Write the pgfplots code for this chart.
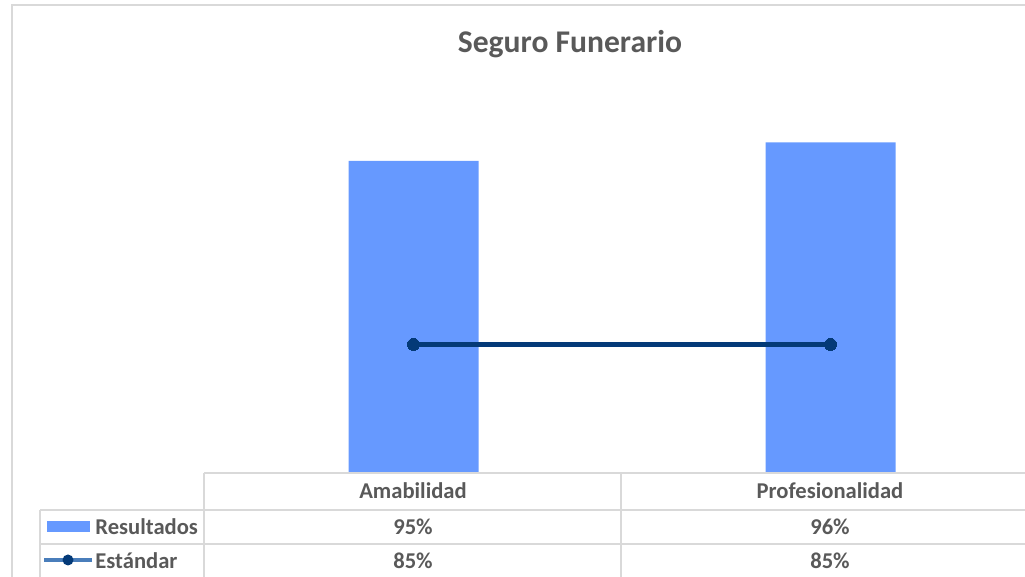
\documentclass[border=0pt]{standalone}
\usepackage{pgfplots}
\pgfplotsset{compat=1.18}
\usepackage{fontspec}
\setmainfont{Carlito}
\definecolor{barblue}{HTML}{6699FF}
\definecolor{linenavy}{HTML}{043A78}
\definecolor{legline}{HTML}{4A7EBB}
\definecolor{txtgray}{HTML}{595959}
\definecolor{bordgray}{HTML}{D9D9D9}
\begin{document}
\begin{tikzpicture}[x=0.5pt,y=0.5pt]
\useasboundingbox (0,0) rectangle (1025,577);
\clip (0,0) rectangle (1025,577);
% chart border
\draw[bordgray,line width=0.9pt] (12,-10) -- (12,572) -- (1040,572);
\begin{axis}[
  at={(102.5pt,52pt)}, anchor=south west,
  scale only axis, width=417pt, height=202pt,
  xmin=-0.5, xmax=1.5, ymin=78, ymax=100,
  axis lines=none, ticks=none, clip=false,
]
\addplot[ybar, bar width=65pt, fill=barblue, draw=none, bar shift=0pt] coordinates {(0,95) (1,96)};
\addplot[linenavy, line width=2.7pt, mark=*, mark size=3pt, mark options={fill=linenavy,draw=linenavy,line width=0pt}] coordinates {(0,85) (1,85)};
\end{axis}
% title
\node[txtgray,font=\fontsize{15.8}{19}\selectfont\bfseries] at (570,533) {Seguro Funerario};
% table lines
\begin{scope}[bordgray,line width=0.9pt]
\draw (204,104) -- (1040,104);
\draw (40,67) -- (1040,67);
\draw (40,33) -- (1040,33);
\draw (204,104) -- (204,-10);
\draw (40,67) -- (40,-10);
\draw (621,104) -- (621,-10);
\end{scope}
\begin{scope}[txtgray,font=\fontsize{11.3}{13}\selectfont\bfseries]
\node at (413,86) {Amabilidad};
\node at (830,86) {Profesionalidad};
\node at (413,50) {95\%};
\node at (830,50) {96\%};
\node at (413,16) {85\%};
\node at (830,16) {85\%};
\node[anchor=west,inner sep=0pt] at (95,50) {Resultados};
\node[anchor=west,inner sep=0pt] at (95,16) {Estándar};
\end{scope}
% legend keys
\fill[barblue] (47,45) rectangle (90,56);
\draw[legline,line width=2.4pt] (44,17) -- (92,17);
\fill[linenavy] (68,17) circle (5.5);
\end{tikzpicture}
\end{document}
